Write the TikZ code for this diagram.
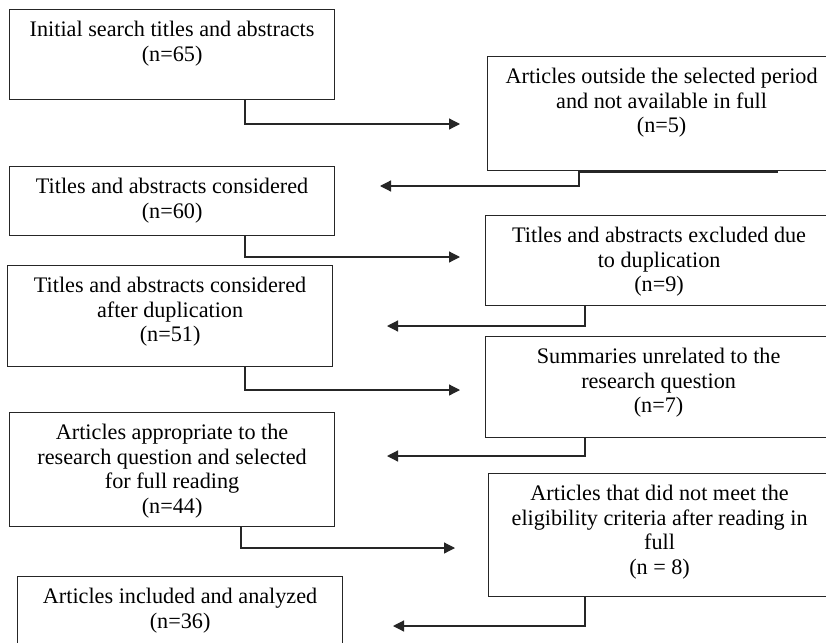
\documentclass[tikz,border=0pt]{standalone}
\usepackage{fontspec}
\setmainfont{Liberation Serif}
\usetikzlibrary{arrows.meta}
\newcommand{\bxtext}[3]{\begin{minipage}[c][#2pt][t]{#1pt}\centering\fontsize{22.2pt}{24.5pt}\selectfont\rule{0pt}{27pt}#3\end{minipage}}
\tikzset{
  box/.style={draw=black!85, line width=1.2pt, inner sep=0pt, anchor=north west},
  conn/.style={draw=black!85, line width=1.2pt, -{Triangle[length=11pt,width=11pt]}},
}
\begin{document}
\begin{tikzpicture}[x=1pt,y=-1pt]
\useasboundingbox (0,0) rectangle (826,642);
\fill[white] (0,0) rectangle (826,642);
\clip (0,0) rectangle (826,642);

\node[box] (b1) at (9,9) {\bxtext{325}{90}{Initial search titles and abstracts\\(n=65)}};
\node[box] (b2) at (487,56) {\bxtext{348}{114}{Articles outside the selected period\\and not available in full\\(n=5)}};
\node[box] (b3) at (9,166) {\bxtext{325}{69}{Titles and abstracts considered\\(n=60)}};
\node[box] (b4) at (485,215) {\bxtext{347}{90}{Titles and abstracts excluded due\\to duplication\\(n=9)}};
\node[box] (b5) at (7,265) {\bxtext{325}{101}{Titles and abstracts considered\\after duplication\\(n=51)}};
\node[box] (b6) at (485,336) {\bxtext{346}{101}{Summaries unrelated to the\\research question\\(n=7)}};
\node[box] (b7) at (9,412) {\bxtext{325}{114}{Articles appropriate to the\\research question and selected\\for full reading\\(n=44)}};
\node[box] (b8) at (488,473) {\bxtext{342}{123}{Articles that did not meet the\\eligibility criteria after reading in\\full\\(n = 8)}};
\node[box] (b9) at (17,576) {\bxtext{325}{100}{Articles included and analyzed\hspace*{18pt}\\(n=36)}};

\coordinate (t1) at (460,124);
\coordinate (t2) at (380,186);
\coordinate (t3) at (460,257);
\coordinate (t4) at (387,326);
\coordinate (t5) at (460,390);
\coordinate (t6) at (387,456);
\coordinate (t7) at (455,548);
\coordinate (t8) at (393,626);

\draw[conn] ([xshift=236pt]b1.south west) |- (t1);
\draw[conn] ([xshift=92pt]b2.south west) |- (t2);
\draw[conn] ([xshift=236pt]b3.south west) |- (t3);
\draw[conn] ([xshift=100pt]b4.south west) |- (t4);
\draw[conn] ([xshift=238pt]b5.south west) |- (t5);
\draw[conn] ([xshift=100pt]b6.south west) |- (t6);
\draw[conn] ([xshift=232pt]b7.south west) |- (t7);
\draw[conn] ([xshift=97pt]b8.south west) |- (t8);

\draw[draw=black!85, line width=2.6pt] ([xshift=92pt]b2.south west) -- ([xshift=291pt]b2.south west);
\end{tikzpicture}
\end{document}
